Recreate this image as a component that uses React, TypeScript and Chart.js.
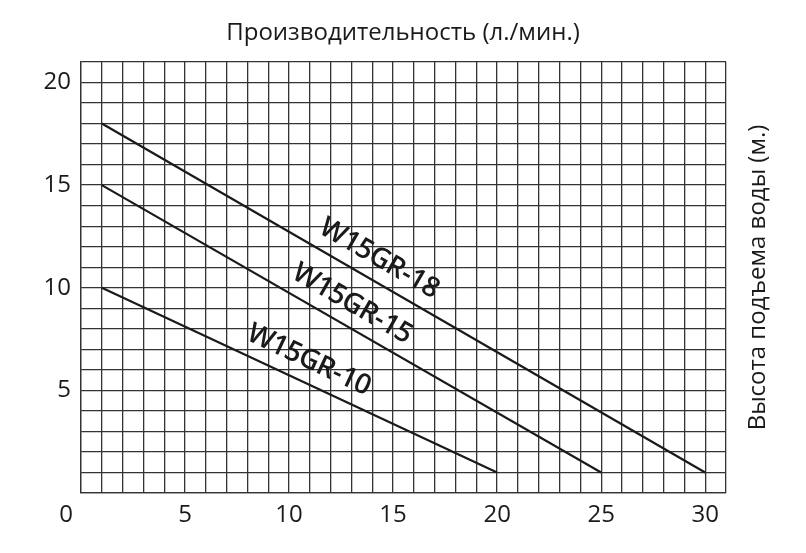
import React, { useEffect, useRef } from "react";
import { Chart, registerables } from "chart.js";

Chart.register(...registerables);

// ---- data ----
const seriesNames = ["W15GR-18", "W15GR-15", "W15GR-10"];
const flow18 = [1, 30];
const head18 = [18, 1];
const flow15 = [1, 25];
const head15 = [15, 1];
const flow10 = [1, 20];
const head10 = [10, 1];
const xTickLabels = [0, 5, 10, 15, 20, 25, 30];
const yTickLabels = [5, 10, 15, 20];
const labelAtFlow = [13.8, 12.5, 10.5];

const xTitle = "Производительность (л./мин.)";
const yTitle = "Высота подъема воды (м.)";

const FONT = '"Open Sans", sans-serif';
const INK = "#1a1a1a";
const GRID = "#333333";

const toPoints = (xs: number[], ys: number[]) => xs.map((x, i) => ({ x, y: ys[i] }));

const annotate = {
  id: "annotate",
  afterDraw(chart: any) {
    const { ctx, chartArea, scales } = chart;
    const xs = scales.x;
    const ys = scales.y;
    ctx.save();
    ctx.fillStyle = INK;

    // origin label "0"
    ctx.font = `24px ${FONT}`;
    ctx.textAlign = "center";
    ctx.textBaseline = "middle";
    ctx.fillText("0", xs.getPixelForValue(0) - 15, chartArea.bottom + 22);

    // right vertical title
    ctx.save();
    ctx.translate(chartArea.right + 32, (chartArea.top + chartArea.bottom) / 2);
    ctx.rotate(-Math.PI / 2);
    ctx.font = `24px ${FONT}`;
    ctx.fillText(yTitle, 0, 0);
    ctx.restore();

    // series labels along lines
    const size = 28;
    ctx.font = `600 ${size}px ${FONT}`;
    try {
      (ctx as any).letterSpacing = "-0.6px";
    } catch (e) {}
    chart.data.datasets.forEach((ds: any, i: number) => {
      const p0 = ds.data[0];
      const p1 = ds.data[ds.data.length - 1];
      const x0 = xs.getPixelForValue(p0.x);
      const y0 = ys.getPixelForValue(p0.y);
      const x1 = xs.getPixelForValue(p1.x);
      const y1 = ys.getPixelForValue(p1.y);
      const a = Math.atan2(y1 - y0, x1 - x0);
      const fx = labelAtFlow[i];
      const t = (fx - p0.x) / (p1.x - p0.x);
      const fy = p0.y + t * (p1.y - p0.y);
      const px = xs.getPixelForValue(fx);
      const py = ys.getPixelForValue(fy);
      const off = 24;
      const cx = px + off * Math.sin(a);
      const cy = py - off * Math.cos(a);
      ctx.save();
      ctx.translate(cx, cy);
      ctx.rotate(a);
      ctx.textAlign = "center";
      ctx.textBaseline = "alphabetic";
      ctx.fillText(seriesNames[i], 0, size * 0.36);
      ctx.restore();
    });
    try {
      (ctx as any).letterSpacing = "0px";
    } catch (e) {}
    ctx.restore();
  },
};

export default function App() {
  const ref = useRef<HTMLCanvasElement>(null);

  useEffect(() => {
    const mk = (xs: number[], ys: number[], label: string) => ({
      label,
      data: toPoints(xs, ys),
      showLine: true,
      borderColor: INK,
      borderWidth: 2.2,
      pointRadius: 0,
      fill: false,
    });
    const chart = new Chart(ref.current as HTMLCanvasElement, {
      type: "scatter",
      data: {
        datasets: [
          mk(flow18, head18, seriesNames[0]),
          mk(flow15, head15, seriesNames[1]),
          mk(flow10, head10, seriesNames[2]),
        ],
      },
      options: {
        animation: false,
        responsive: true,
        maintainAspectRatio: false,
        layout: { padding: 0 },
        plugins: {
          legend: { display: false },
          tooltip: { enabled: false },
          title: {
            display: true,
            text: xTitle,
            color: INK,
            font: { family: FONT, size: 24, weight: "normal" },
            padding: { top: 18.6, bottom: 14.6 },
          },
        },
        scales: {
          x: {
            type: "linear",
            min: 0,
            max: 31,
            afterFit: (s: any) => {
              s.height = 60;
            },
            grid: { color: GRID, lineWidth: 1.3, drawTicks: false },
            border: { color: GRID, width: 1.3 },
            ticks: {
              stepSize: 1,
              maxTicksLimit: 100,
              autoSkip: false,
              maxRotation: 0,
              padding: 8,
              color: INK,
              font: { family: FONT, size: 24 },
              callback: (v: any) => (Number(v) !== 0 && xTickLabels.includes(Number(v)) ? String(v) : ""),
            },
          },
          y: {
            type: "linear",
            min: 0,
            max: 21,
            afterFit: (s: any) => {
              s.width = 81;
            },
            grid: { color: GRID, lineWidth: 1.3, drawTicks: false },
            border: { color: GRID, width: 1.3 },
            ticks: {
              stepSize: 1,
              maxTicksLimit: 100,
              autoSkip: false,
              padding: 10,
              color: INK,
              font: { family: FONT, size: 24 },
              callback: (v: any) => (yTickLabels.includes(Number(v)) ? String(v) : ""),
            },
          },
          yR: {
            type: "linear",
            position: "right",
            min: 0,
            max: 21,
            afterFit: (s: any) => {
              s.width = 80;
            },
            grid: { display: false, drawTicks: false },
            border: { display: false },
            ticks: { display: false },
          },
        },
      },
      plugins: [annotate],
    } as any);
    return () => chart.destroy();
  }, []);

  return (
    <div style={{ position: "fixed", left: 0, top: 0, width: 806, height: 553, background: "#fff" }}>
      <canvas ref={ref} />
    </div>
  );
}
